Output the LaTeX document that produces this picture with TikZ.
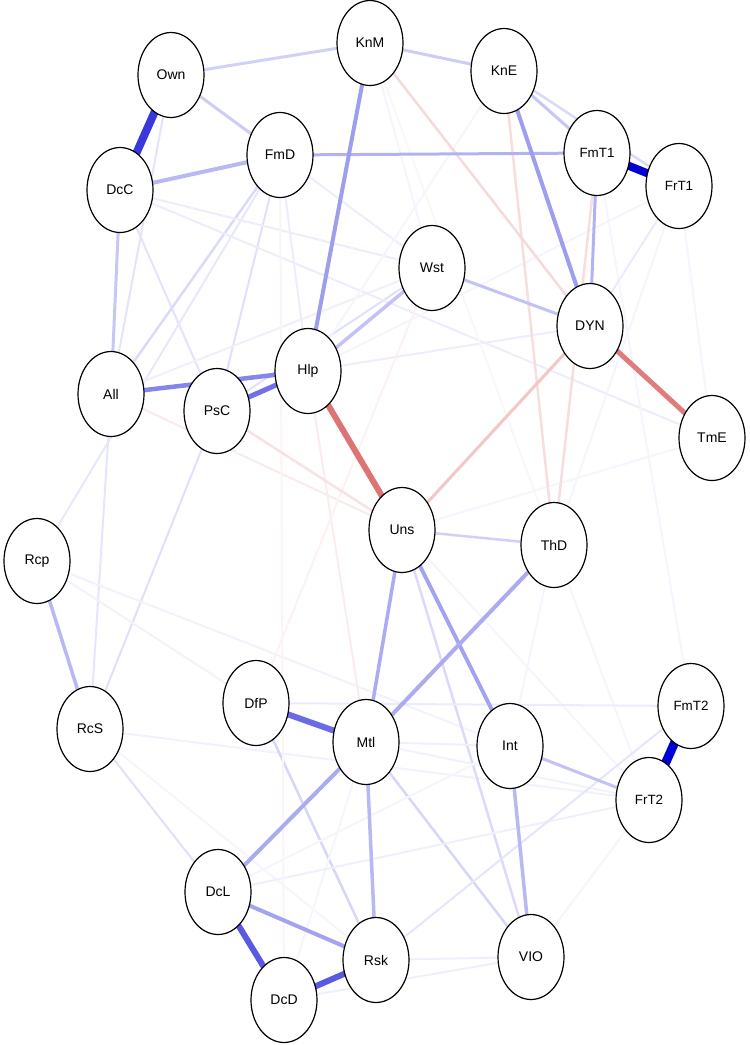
\documentclass[tikz,border=0pt]{standalone}
\usepackage{fontspec}
\setmainfont{Liberation Sans}
\usetikzlibrary{shapes.geometric}
\pgfdeclarelayer{bg}
\pgfsetlayers{bg,main}
\definecolor{pb}{RGB}{0,0,213}
\definecolor{nr}{RGB}{200,30,30}
\tikzset{
  vnode/.style={ellipse, draw=black, line width=1.2pt, fill=white, minimum width=66pt, minimum height=85pt, inner sep=0pt, font=\fontsize{14}{16}\selectfont},
  snode/.style={vnode, font=\fontsize{13.4}{16}\selectfont},
  pos/.style n args={2}{draw=pb!#1, line width=#2pt},
  neg/.style n args={2}{draw=nr!#1, line width=#2pt}
}
\begin{document}
\begin{tikzpicture}[x=1pt,y=-1pt]
\useasboundingbox (0,0) rectangle (750,1045);
\node[vnode] (KnM) at (370,43) {KnM};
\node[vnode] (Own) at (171,75) {Own};
\node[vnode] (KnE) at (504,71) {KnE};
\node[vnode] (FmD) at (280,155) {FmD};
\node[vnode] (DcC) at (120,190) {DcC};
\node[snode] (FmT1) at (597,153) {FmT1};
\node[snode] (FrT1) at (679,186) {FrT1};
\node[vnode] (Wst) at (432,268) {Wst};
\node[vnode] (DYN) at (590,326) {DYN};
\node[vnode] (Hlp) at (308,371) {Hlp};
\node[vnode] (All) at (111,394) {All};
\node[vnode] (PsC) at (217,411) {PsC};
\node[vnode] (TmE) at (712,438) {TmE};
\node[vnode] (Uns) at (402,530) {Uns};
\node[vnode] (ThD) at (554,545) {ThD};
\node[vnode] (Rcp) at (37,561) {Rcp};
\node[vnode] (DfP) at (256,703) {DfP};
\node[vnode] (RcS) at (90,729) {RcS};
\node[vnode] (Mtl) at (366,742) {Mtl};
\node[vnode] (Int) at (510,746) {Int};
\node[snode] (FmT2) at (691,706) {FmT2};
\node[snode] (FrT2) at (649,800) {FrT2};
\node[vnode] (DcL) at (218,892) {DcL};
\node[vnode] (VIO) at (531,957) {VIO};
\node[vnode] (Rsk) at (376,960) {Rsk};
\node[vnode] (DcD) at (284,1000) {DcD};
\begin{pgfonlayer}{bg}
% faint positive
\draw[pos={11}{2}] (Own.center) -- (All.center);
\draw[pos={11}{2}] (DcC.center) -- (PsC.center);
\draw[pos={14}{2.5}] (FmD.center) -- (All.center);
\draw[pos={9}{2}] (FmD.center) -- (Rcp.center);
\draw[pos={12}{2}] (FmD.center) -- (PsC.center);
\draw[pos={7}{2}] (FmD.center) -- (Hlp.center);
\draw[pos={7}{2}] (FmD.center) -- (Wst.center);
\draw[pos={10}{2}] (All.center) -- (RcS.center);
\draw[pos={12}{2}] (PsC.center) -- (RcS.center);
\draw[pos={12}{2}] (PsC.center) -- (Wst.center);
\draw[pos={6}{2}] (All.center) -- (Wst.center);
\draw[pos={7}{2}] (DcC.center) -- (Wst.center);
\draw[pos={7}{2}] (DcC.center) -- (TmE.center);
\draw[pos={7}{2}] (Hlp.center) -- (DYN.center);
\draw[pos={4}{2}] (Hlp.center) -- (FrT1.center);
\draw[pos={5}{2}] (Rcp.center) -- (Int.center);
\draw[pos={5}{2}] (Rcp.center) -- (DfP.center);
\draw[pos={12}{2}] (RcS.center) -- (DcL.center);
\draw[pos={4}{2}] (RcS.center) -- (Rsk.center);
\draw[pos={5}{2}] (RcS.center) -- (FrT2.center);
\draw[pos={14}{2.5}] (Uns.center) -- (VIO.center);
\draw[pos={4}{2}] (Uns.center) -- (FrT2.center);
\draw[pos={4}{2}] (ThD.center) -- (Int.center);
\draw[pos={4}{2}] (ThD.center) -- (FrT2.center);
\draw[pos={8}{2}] (DfP.center) -- (FmT2.center);
\draw[pos={16}{2.5}] (DfP.center) -- (Rsk.center);
\draw[pos={16}{2.5}] (Mtl.center) -- (VIO.center);
\draw[pos={6}{2}] (Mtl.center) -- (Int.center);
\draw[pos={5}{2}] (Mtl.center) -- (FrT2.center);
\draw[pos={6}{2}] (Rsk.center) -- (VIO.center);
\draw[pos={6}{2}] (DcD.center) -- (VIO.center);
\draw[pos={4}{2}] (DcD.center) -- (Mtl.center);
\draw[pos={6}{2}] (DcL.center) -- (FrT2.center);
\draw[pos={4}{2}] (DcL.center) -- (Int.center);
\draw[pos={10}{2}] (Rsk.center) -- (FmT2.center);
\draw[pos={4}{2}] (VIO.center) -- (FrT2.center);
\draw[pos={4}{2}] (FmT1.center) -- (FmT2.center);
\draw[pos={8}{2}] (FrT1.center) -- (DYN.center);
\draw[pos={4}{2}] (FrT1.center) -- (TmE.center);
\draw[pos={4}{2}] (FrT1.center) -- (ThD.center);
\draw[pos={4}{2}] (TmE.center) -- (Uns.center);
\draw[pos={4}{2}] (KnM.center) -- (Wst.center);
\draw[pos={4}{2}] (KnE.center) -- (Hlp.center);
% faint negative
\draw[neg={9}{2}] (All.center) -- (Uns.center);
\draw[neg={8}{2}] (Hlp.center) -- (Mtl.center);
\draw[neg={6}{2}] (DfP.center) -- (Wst.center);
\draw[neg={5}{2}] (FmD.center) -- (DcD.center);
\draw[neg={4}{2}] (KnM.center) -- (ThD.center);
\draw[neg={13}{2.5}] (PsC.center) -- (Uns.center);
\draw[neg={15}{2.5}] (KnE.center) -- (ThD.center);
\draw[neg={15}{2.5}] (FmT1.center) -- (ThD.center);
\draw[neg={17}{2.5}] (KnM.center) -- (DYN.center);
\draw[neg={25}{3}] (DYN.center) -- (Uns.center);
% medium positive
\draw[pos={18}{3}] (Own.center) -- (KnM.center);
\draw[pos={20}{3}] (KnM.center) -- (KnE.center);
\draw[pos={20}{3}] (Own.center) -- (FmD.center);
\draw[pos={28}{4}] (DcC.center) -- (FmD.center);
\draw[pos={22}{3}] (DcC.center) -- (All.center);
\draw[pos={15}{2.5}] (KnE.center) -- (FrT1.center);
\draw[pos={22}{3}] (KnE.center) -- (FmT1.center);
\draw[pos={30}{3}] (FmD.center) -- (FmT1.center);
\draw[pos={30}{3}] (FmT1.center) -- (DYN.center);
\draw[pos={24}{3}] (Wst.center) -- (DYN.center);
\draw[pos={24}{3.5}] (Wst.center) -- (Hlp.center);
\draw[pos={18}{2.5}] (Uns.center) -- (ThD.center);
\draw[pos={33}{3.5}] (Uns.center) -- (Mtl.center);
\draw[pos={36}{4}] (Uns.center) -- (Int.center);
\draw[pos={33}{4}] (ThD.center) -- (Mtl.center);
\draw[pos={33}{4}] (Mtl.center) -- (DcL.center);
\draw[pos={28}{3.5}] (Mtl.center) -- (Rsk.center);
\draw[pos={36}{4}] (DcL.center) -- (Rsk.center);
\draw[pos={28}{3.5}] (Int.center) -- (VIO.center);
\draw[pos={24}{3}] (Int.center) -- (FrT2.center);
\draw[pos={28}{3.5}] (Rcp.center) -- (RcS.center);
\draw[pos={38}{4}] (KnM.center) -- (Hlp.center);
\draw[pos={38}{4}] (KnE.center) -- (DYN.center);
\draw[pos={48}{4.5}] (All.center) -- (Hlp.center);
\draw[pos={56}{5}] (PsC.center) -- (Hlp.center);
\draw[pos={58}{6}] (DfP.center) -- (Mtl.center);
\draw[pos={65}{6}] (DcL.center) -- (DcD.center);
\draw[pos={65}{6}] (DcD.center) -- (Rsk.center);
\draw[pos={78}{8}] (Own.center) -- (DcC.center);
\draw[pos={100}{8}] (FmT1.center) -- (FrT1.center);
\draw[pos={100}{9}] (FmT2.center) -- (FrT2.center);
% strong negative
\draw[neg={58}{5}] (DYN.center) -- (TmE.center);
\draw[neg={62}{6}] (Hlp.center) -- (Uns.center);
\end{pgfonlayer}
\end{tikzpicture}
\end{document}
